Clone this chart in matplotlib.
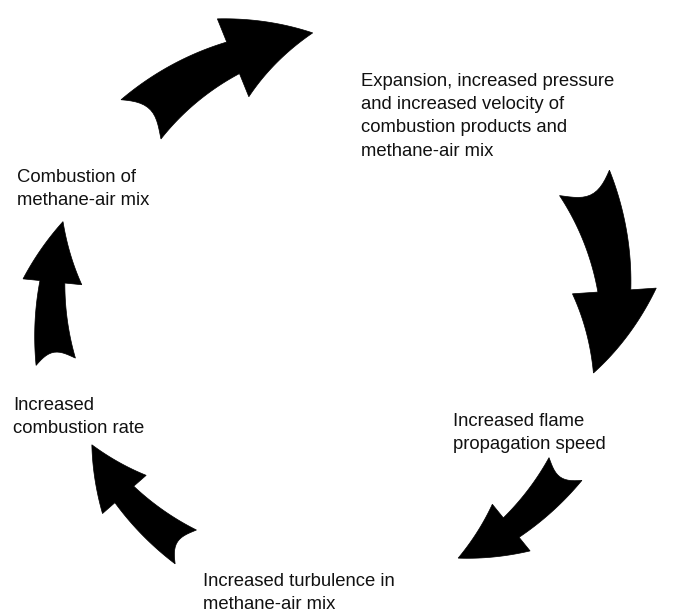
import numpy as np
import matplotlib.pyplot as plt
from matplotlib.patches import Polygon

plt.rcParams['font.family'] = ['Liberation Sans', 'DejaVu Sans']

# labels of the cycle (clockwise from top right)
labels = [
    "Expansion, increased pressure\nand increased velocity of\ncombustion products and\nmethane-air mix",
    "Increased flame\npropagation speed",
    "Increased turbulence in\nmethane-air mix",
    "Increased\ncombustion rate",
    "Combustion of\nmethane-air mix",
]
label_xy = [(361, 73), (453, 413), (203, 573), (13, 397), (17, 169)]

# arrows: angles in degrees round the cycle centre, tail -> neck -> tip (clockwise)
arrow_tail = [135.5, 27.0, -34.6, 237.8, 190.5]
arrow_neck = [112.0, 3.9, -51.0, 221.2, 174.3]
arrow_tip = [94.6, -13.7, -63.6, 209.0, 162.0]
arrow_r = [272, 280, 280, 280, 284]
tip_shift = [6, -14, -3, -2, 2]
tail_w = [56, 56, 40, 40, 40]
neck_w = [34, 33, 25, 25, 25]
head_w = [84, 84, 60, 58, 59]

W, H = 675, 615
CX, CY = 335, 310


def pts(r, ang):
    return np.column_stack([CX + r * np.cos(ang), CY - r * np.sin(ang)])


def arc_arrow(ax, r, a0, a1, a2, w0, w1, wh, dr):
    a0, a1, a2 = np.radians([a0, a1, a2])
    t = np.linspace(0, 1, 40)
    ang = a0 + (a1 - a0) * t
    hw = (w0 + (w1 - w0) * t) / 2
    outer = pts(r + hw, ang)
    inner = pts(r - hw, ang)
    s = np.linspace(0, 1, 25)
    ha = a1 + (a2 - a1) * s
    head_out = pts(r + dr * s + wh / 2 * (1 - s), ha)
    head_in = pts(r + dr * s - wh / 2 * (1 - s), ha)
    # concave tail cut
    u = np.linspace(0, 1, 15)
    ta = a0 + (a1 - a0) * 0.12 * np.sin(np.pi * u)
    tail = pts(r - w0 / 2 + w0 * u, ta)
    poly = np.vstack([outer, head_out, head_in[::-1], inner[::-1], tail])
    ax.add_patch(Polygon(poly, closed=True, facecolor='black', edgecolor='black', lw=0.5))


fig = plt.figure(figsize=(W / 100, H / 100), dpi=100)
ax = fig.add_axes([0, 0, 1, 1])
ax.set_xlim(0, W)
ax.set_ylim(H, 0)
ax.axis('off')

for i in range(len(arrow_tail)):
    arc_arrow(ax, arrow_r[i], arrow_tail[i], arrow_neck[i], arrow_tip[i],
              tail_w[i], neck_w[i], head_w[i], tip_shift[i])

for txt, (x, y) in zip(labels, label_xy):
    ax.text(x, y, txt, fontsize=13.3, ha='left', va='top', linespacing=1.48, color='#111111')

fig.savefig('out.png', dpi=100, facecolor='white')
